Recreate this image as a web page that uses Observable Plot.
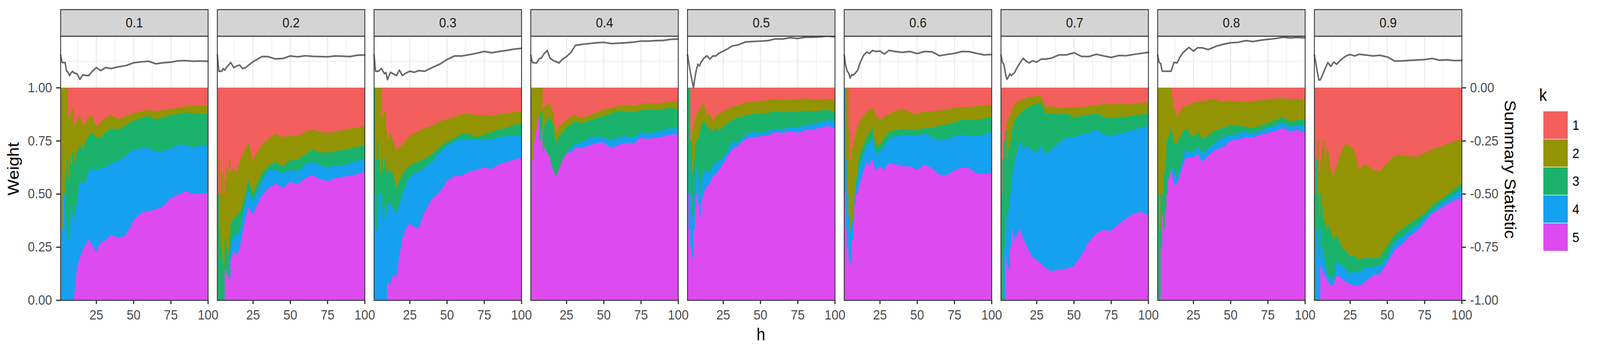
<!DOCTYPE html>
<html><head><meta charset="utf-8">
<script src="https://cdn.jsdelivr.net/npm/d3@7"></script>
<script src="https://cdn.jsdelivr.net/npm/@observablehq/plot@0.6"></script>
<style>
html,body{margin:0;padding:0;width:100%;height:100%;background:#fff;overflow:hidden;}
#wrap{width:100vw;height:100vh;}
#wrap svg{width:100%;height:100%;display:block;max-width:none;}
</style></head><body><div id="wrap"></div>
<script>
const panels = ["0.1","0.2","0.3","0.4","0.5","0.6","0.7","0.8","0.9"];
const kLevels = ["1","2","3","4","5"];
const hValues = [1,2,3,4,5,6,7,8,9,10,12,14,16,18,20,22,25,28,31,35,40,45,50,55,60,65,70,75,80,85,90,95,100];
// cumulative weight (k=5)
const top5 = [
[0,0,0,0,0,0,0,0,0,0,0.152,0.2,0.237,0.265,0.286,0.261,0.229,0.273,0.282,0.306,0.294,0.306,0.375,0.411,0.419,0.427,0.443,0.48,0.496,0.512,0.5,0.5,0.504],
[0,0,0,0,0,0.142,0.128,0.11,0.104,0.184,0.233,0.213,0.237,0.318,0.383,0.435,0.403,0.451,0.492,0.524,0.549,0.528,0.557,0.544,0.573,0.589,0.569,0.56,0.573,0.58,0.585,0.593,0.605],
[0,0,0,0,0,0,0,0,0,0.09,0.071,0.124,0.11,0.2,0.286,0.33,0.362,0.344,0.34,0.415,0.476,0.508,0.56,0.585,0.585,0.605,0.613,0.625,0.617,0.638,0.65,0.662,0.67],
[0.5,0.666,0.75,0.8,0.834,0.856,0.75,0.8,0.702,0.726,0.694,0.67,0.613,0.581,0.617,0.654,0.694,0.694,0.718,0.714,0.727,0.739,0.743,0.714,0.731,0.74,0.739,0.763,0.759,0.765,0.77,0.78,0.779],
[0.5,0.334,0.25,0.2,0.334,0.43,0.5,0.455,0.4,0.455,0.504,0.536,0.548,0.58,0.593,0.61,0.642,0.678,0.71,0.727,0.759,0.767,0.771,0.775,0.791,0.787,0.795,0.787,0.8,0.803,0.811,0.82,0.811],
[0.5,0.334,0.25,0.2,0.168,0.286,0.375,0.447,0.5,0.5,0.56,0.605,0.65,0.633,0.666,0.61,0.63,0.613,0.646,0.64,0.63,0.63,0.613,0.638,0.621,0.589,0.589,0.609,0.625,0.621,0.597,0.593,0.601],
[0,0,0,0.2,0.164,0.144,0.25,0.334,0.3,0.273,0.31,0.334,0.29,0.261,0.229,0.205,0.189,0.172,0.152,0.136,0.144,0.148,0.16,0.209,0.273,0.314,0.33,0.326,0.358,0.383,0.407,0.415,0.399],
[0,0,0.25,0.4,0.334,0.43,0.5,0.573,0.6,0.637,0.54,0.548,0.589,0.633,0.67,0.67,0.67,0.69,0.65,0.678,0.71,0.718,0.751,0.755,0.767,0.767,0.779,0.787,0.795,0.811,0.795,0.8,0.791],
[0,0,0,0,0.164,0.14,0.124,0.112,0.1,0.087,0.073,0.07,0.118,0.11,0.1,0.088,0.075,0.07,0.066,0.086,0.116,0.124,0.176,0.237,0.265,0.302,0.324,0.366,0.407,0.427,0.451,0.469,0.484]
];
// cumulative weight (k=5..4)
const top4 = [
[0.5,0.334,0.5,0.403,0.334,0.286,0.375,0.443,0.403,0.362,0.464,0.56,0.548,0.557,0.605,0.62,0.613,0.621,0.625,0.642,0.658,0.678,0.71,0.714,0.718,0.698,0.702,0.714,0.731,0.731,0.718,0.731,0.722],
[0,0,0,0,0,0.142,0.128,0.11,0.2,0.25,0.3,0.314,0.31,0.395,0.464,0.52,0.464,0.512,0.557,0.613,0.613,0.597,0.613,0.605,0.638,0.65,0.637,0.625,0.633,0.633,0.645,0.654,0.666],
[0.5,0.334,0.5,0.4,0.5,0.43,0.375,0.443,0.403,0.45,0.46,0.427,0.411,0.45,0.5,0.532,0.58,0.597,0.605,0.622,0.653,0.694,0.727,0.747,0.759,0.755,0.755,0.752,0.757,0.767,0.771,0.775,0.779],
[0.5,0.666,0.75,0.8,0.834,0.856,0.75,0.8,0.702,0.726,0.694,0.67,0.613,0.581,0.617,0.654,0.694,0.714,0.735,0.741,0.762,0.771,0.767,0.751,0.767,0.772,0.763,0.79,0.783,0.792,0.8,0.81,0.807],
[0.5,0.666,0.5,0.4,0.5,0.573,0.625,0.573,0.5,0.548,0.613,0.6,0.605,0.63,0.654,0.65,0.67,0.702,0.747,0.741,0.779,0.791,0.787,0.795,0.807,0.803,0.816,0.811,0.824,0.828,0.836,0.848,0.844],
[1,0.666,0.5,0.4,0.334,0.375,0.443,0.5,0.548,0.589,0.641,0.682,0.727,0.743,0.763,0.694,0.694,0.727,0.755,0.771,0.775,0.779,0.775,0.783,0.767,0.751,0.759,0.771,0.779,0.775,0.771,0.779,0.791],
[0,0,0.25,0.4,0.334,0.43,0.5,0.573,0.6,0.637,0.694,0.75,0.706,0.727,0.718,0.702,0.694,0.727,0.686,0.71,0.739,0.767,0.767,0.779,0.787,0.803,0.779,0.775,0.783,0.791,0.8,0.811,0.82],
[0,0,0.25,0.4,0.334,0.43,0.5,0.573,0.6,0.637,0.613,0.573,0.621,0.67,0.71,0.702,0.694,0.722,0.69,0.714,0.743,0.767,0.775,0.783,0.795,0.783,0.795,0.811,0.82,0.836,0.816,0.824,0.82],
[0,0.334,0.25,0.2,0.334,0.249,0.2,0.164,0.14,0.12,0.107,0.087,0.183,0.171,0.16,0.15,0.121,0.139,0.128,0.15,0.157,0.161,0.2,0.273,0.298,0.326,0.353,0.387,0.419,0.447,0.472,0.496,0.52]
];
// cumulative weight (k=5..3)
const top3 = [
[0.5,0.334,0.5,0.597,0.666,0.573,0.67,0.637,0.698,0.637,0.694,0.735,0.706,0.747,0.775,0.79,0.767,0.763,0.787,0.809,0.803,0.824,0.844,0.856,0.868,0.85,0.86,0.87,0.878,0.884,0.88,0.876,0.88],
[0.5,0.334,0.25,0.2,0.167,0.286,0.25,0.222,0.3,0.36,0.383,0.4,0.41,0.447,0.504,0.565,0.5,0.553,0.597,0.63,0.65,0.63,0.658,0.662,0.686,0.71,0.694,0.694,0.702,0.706,0.714,0.722,0.73],
[1,0.666,0.75,0.666,0.6,0.666,0.62,0.67,0.6,0.633,0.6,0.6,0.524,0.56,0.59,0.613,0.633,0.645,0.652,0.665,0.686,0.72,0.745,0.762,0.785,0.783,0.767,0.78,0.791,0.803,0.811,0.824,0.832],
[0.5,0.666,0.75,0.8,0.834,0.856,0.876,0.888,0.8,0.816,0.85,0.86,0.824,0.739,0.767,0.787,0.811,0.827,0.844,0.832,0.844,0.856,0.868,0.878,0.893,0.888,0.884,0.893,0.896,0.895,0.9,0.905,0.899],
[1,1,0.75,0.6,0.666,0.714,0.75,0.767,0.8,0.816,0.848,0.82,0.811,0.79,0.811,0.8,0.816,0.832,0.848,0.86,0.868,0.876,0.88,0.88,0.892,0.884,0.888,0.884,0.892,0.888,0.892,0.896,0.888],
[1,0.666,0.5,0.4,0.334,0.375,0.443,0.5,0.58,0.637,0.694,0.73,0.767,0.783,0.811,0.73,0.73,0.767,0.791,0.8,0.807,0.803,0.8,0.811,0.811,0.82,0.828,0.836,0.848,0.852,0.848,0.856,0.86],
[0.5,0.666,0.75,0.8,0.666,0.714,0.75,0.8,0.816,0.84,0.864,0.88,0.892,0.903,0.909,0.917,0.925,0.929,0.876,0.88,0.874,0.88,0.86,0.868,0.872,0.88,0.864,0.856,0.864,0.862,0.868,0.874,0.88],
[0.5,0.334,0.5,0.5,0.6,0.666,0.75,0.77,0.8,0.82,0.74,0.735,0.767,0.787,0.811,0.791,0.767,0.791,0.759,0.775,0.8,0.811,0.824,0.82,0.816,0.811,0.82,0.832,0.848,0.86,0.84,0.848,0.848],
[0.5,0.666,0.5,0.4,0.5,0.443,0.375,0.362,0.334,0.362,0.322,0.282,0.306,0.273,0.249,0.231,0.209,0.21,0.189,0.2,0.197,0.202,0.256,0.306,0.337,0.361,0.385,0.409,0.447,0.47,0.494,0.522,0.549]
];
// cumulative weight (k=5..2); k=1 fills the rest up to 1
const top2 = [
[1,1,1,1,1,0.858,0.876,0.888,0.9,0.82,0.845,0.872,0.82,0.84,0.86,0.873,0.815,0.838,0.856,0.872,0.852,0.866,0.88,0.888,0.895,0.888,0.895,0.9,0.905,0.912,0.915,0.912,0.918],
[0.5,0.666,0.5,0.6,0.5,0.573,0.625,0.6,0.666,0.613,0.62,0.6,0.65,0.686,0.714,0.739,0.654,0.698,0.73,0.759,0.783,0.767,0.775,0.771,0.791,0.803,0.791,0.787,0.791,0.8,0.807,0.811,0.82],
[1,1,1,1,1,0.858,0.876,0.888,0.8,0.75,0.79,0.75,0.702,0.72,0.73,0.747,0.775,0.783,0.795,0.81,0.82,0.84,0.852,0.862,0.874,0.879,0.868,0.872,0.866,0.875,0.88,0.885,0.888],
[1,1,1,1,1,1,1,1,0.9,0.912,0.915,0.933,0.88,0.79,0.816,0.832,0.848,0.864,0.868,0.86,0.868,0.884,0.896,0.905,0.913,0.92,0.915,0.922,0.929,0.925,0.93,0.935,0.93],
[1,1,0.75,0.8,0.834,0.856,0.876,0.888,0.9,0.912,0.929,0.87,0.884,0.844,0.864,0.876,0.888,0.9,0.909,0.917,0.929,0.933,0.937,0.941,0.947,0.941,0.943,0.945,0.949,0.943,0.945,0.947,0.941],
[1,1,1,0.8,0.666,0.714,0.75,0.767,0.8,0.816,0.848,0.868,0.884,0.896,0.905,0.872,0.848,0.864,0.876,0.888,0.9,0.884,0.876,0.888,0.888,0.892,0.896,0.905,0.909,0.909,0.913,0.917,0.92],
[0.5,0.666,0.75,0.8,0.834,0.856,0.876,0.896,0.909,0.92,0.933,0.937,0.947,0.951,0.955,0.957,0.96,0.963,0.909,0.913,0.903,0.909,0.905,0.909,0.913,0.917,0.925,0.92,0.925,0.92,0.925,0.929,0.93],
[1,1,1,1,1,1,1,1,1,1,0.912,0.868,0.888,0.905,0.912,0.92,0.929,0.933,0.937,0.941,0.947,0.933,0.941,0.933,0.933,0.937,0.941,0.945,0.949,0.951,0.945,0.947,0.941],
[0.5,0.666,0.751,0.605,0.666,0.714,0.751,0.654,0.702,0.727,0.613,0.581,0.638,0.678,0.712,0.735,0.727,0.702,0.613,0.642,0.617,0.605,0.647,0.682,0.682,0.676,0.676,0.692,0.71,0.72,0.735,0.747,0.759]
];
// summary statistic (right axis)
const statValues = [
[0.155,0.119,0.119,0.119,0.078,0.074,0.058,0.07,0.078,0.07,0.066,0.04,0.062,0.058,0.058,0.076,0.095,0.081,0.095,0.091,0.099,0.105,0.118,0.122,0.125,0.113,0.118,0.121,0.127,0.128,0.125,0.126,0.125],
[0.155,0.078,0.078,0.078,0.091,0.083,0.095,0.103,0.111,0.119,0.095,0.103,0.107,0.09,0.095,0.107,0.123,0.135,0.147,0.147,0.136,0.138,0.15,0.146,0.151,0.148,0.147,0.146,0.15,0.149,0.147,0.153,0.155],
[0.155,0.078,0.078,0.078,0.085,0.091,0.078,0.066,0.072,0.038,0.073,0.065,0.058,0.083,0.058,0.068,0.078,0.073,0.081,0.078,0.095,0.111,0.133,0.15,0.15,0.156,0.163,0.171,0.165,0.171,0.176,0.182,0.186],
[0.155,0.119,0.118,0.117,0.117,0.129,0.139,0.139,0.15,0.161,0.176,0.139,0.129,0.123,0.117,0.133,0.147,0.167,0.2,0.204,0.208,0.212,0.214,0.208,0.21,0.212,0.215,0.22,0.22,0.222,0.223,0.228,0.23],
[0.155,0.112,0.07,0.035,0.0,0.049,0.087,0.111,0.103,0.119,0.139,0.151,0.135,0.15,0.15,0.162,0.173,0.184,0.197,0.202,0.216,0.218,0.22,0.222,0.23,0.23,0.236,0.232,0.238,0.238,0.24,0.243,0.24],
[0.155,0.103,0.078,0.07,0.046,0.062,0.06,0.066,0.074,0.083,0.123,0.153,0.168,0.162,0.176,0.171,0.173,0.159,0.176,0.171,0.167,0.171,0.161,0.171,0.169,0.151,0.157,0.162,0.171,0.17,0.162,0.155,0.157],
[0.155,0.12,0.11,0.068,0.04,0.05,0.065,0.058,0.065,0.07,0.097,0.12,0.139,0.125,0.117,0.127,0.121,0.135,0.135,0.14,0.155,0.155,0.165,0.148,0.147,0.158,0.15,0.143,0.152,0.151,0.157,0.162,0.167],
[0.155,0.119,0.115,0.078,0.078,0.078,0.078,0.078,0.078,0.078,0.12,0.117,0.145,0.165,0.178,0.19,0.173,0.189,0.188,0.18,0.195,0.205,0.212,0.214,0.222,0.218,0.224,0.228,0.232,0.238,0.235,0.237,0.235],
[0.155,0.116,0.075,0.037,0.038,0.054,0.07,0.087,0.103,0.119,0.101,0.121,0.111,0.127,0.138,0.149,0.157,0.15,0.158,0.155,0.15,0.153,0.145,0.126,0.127,0.129,0.131,0.133,0.138,0.13,0.132,0.128,0.129]
];
const xTicks = [25, 50, 75, 100];
const yTicks = [0, 0.25, 0.5, 0.75, 1];
const kColors = ["#F25F5C", "#939403", "#1BB36B", "#16A0F0", "#DD4AF0"];

const FONT = "'Liberation Sans', Arial, Helvetica, sans-serif";

// Tidy rows
const bands = [];
const lineRows = [];
panels.forEach((p, i) => {
  hValues.forEach((h, j) => {
    const c = [0, top5[i][j], top4[i][j], top3[i][j], top2[i][j], 1];
    for (let m = 0; m < 5; m++) {
      bands.push({panel: p, h, k: kLevels[4 - m], lo: c[m], hi: c[m + 1]});
    }
    lineRows.push({panel: p, h, stat: statValues[i][j]});
  });
});
const early = bands.filter(d => d.h <= 10);
const late = bands.filter(d => d.h >= 10);

const plot = Plot.plot({
  width: 4500,
  height: 900,
  marginLeft: 170,
  marginRight: 389,
  marginTop: 92,
  marginBottom: 132.5,
  style: {fontFamily: FONT, background: "#fff"},
  fx: {domain: panels, paddingInner: 0.059, paddingOuter: 0, round: false, axis: null, label: null},
  x: {domain: [1, 100], label: null},
  y: {domain: [0, 1.243], label: null},
  color: {domain: kLevels, range: kColors},
  marks: [
    Plot.gridX({ticks: [12.5, 37.5, 62.5, 87.5], stroke: "#EBEBEB", strokeOpacity: 1, strokeWidth: 1.7}),
    Plot.gridX({ticks: [25, 50, 75], stroke: "#EBEBEB", strokeOpacity: 1, strokeWidth: 3.2}),
    Plot.gridY({ticks: [1.125], stroke: "#EBEBEB", strokeOpacity: 1, strokeWidth: 1.7}),
    Plot.areaY(early, {fx: "panel", x: "h", y1: "lo", y2: "hi", z: "k", fill: "k", curve: "step-after", shapeRendering: "crispEdges"}),
    Plot.areaY(late, {fx: "panel", x: "h", y1: "lo", y2: "hi", z: "k", fill: "k", curve: "linear", shapeRendering: "crispEdges"}),
    Plot.line(lineRows, {fx: "panel", x: "h", y: d => d.stat + 1, stroke: "#696969", strokeWidth: 4.2}),
    Plot.frame({stroke: "#333333", strokeWidth: 2.4}),
    Plot.frame({fill: "#D4D4D4", stroke: "#333333", strokeWidth: 2.4, insetTop: -68, insetBottom: 675.5}),
    Plot.text(panels, {fx: d => d, text: d => d, frameAnchor: "top", lineAnchor: "middle", dy: -34, fontSize: 35, fill: "#1A1A1A"}),
    Plot.axisX({ticks: xTicks, tickSize: 10, tickPadding: 14, fontSize: 35, color: "#4D4D4D", stroke: "#333333", strokeWidth: 3.3, label: null}),
    Plot.axisY({anchor: "left", facetAnchor: "left", ticks: yTicks, tickFormat: d => d.toFixed(2), tickSize: 12, tickPadding: 12, fontSize: 35, color: "#4D4D4D", stroke: "#333333", strokeWidth: 3.3, label: null}),
    Plot.axisY({anchor: "right", facetAnchor: "right", ticks: yTicks, tickFormat: d => (d - 1).toFixed(2), tickSize: 11, tickPadding: 12, fontSize: 35, color: "#4D4D4D", stroke: "#333333", strokeWidth: 3.3, label: null})
  ]
});
plot.setAttribute("preserveAspectRatio", "none");
document.getElementById("wrap").appendChild(plot);

// Titles and legend (added to the same SVG, so they scale with it)
const svg = d3.select(plot);
const g = svg.append("g").attr("font-family", FONT);
g.append("text").attr("transform", "translate(53,432) rotate(-90)").attr("text-anchor", "middle")
  .attr("font-size", 44).attr("fill", "#000").text("Weight");
g.append("text").attr("x", 2140).attr("y", 870).attr("text-anchor", "middle")
  .attr("font-size", 44).attr("fill", "#000").text("h");
g.append("text").attr("transform", "translate(4232,433) rotate(90)").attr("text-anchor", "middle")
  .attr("font-size", 44).attr("fill", "#000").text("Summary Statistic");
g.append("text").attr("x", 4340).attr("y", 258).attr("font-size", 44).attr("fill", "#000").text("k");
const color = plot.scale("color");
kLevels.forEach((k, i) => {
  const y0 = 284 + i * 71.6;
  g.append("rect").attr("x", 4340).attr("y", y0).attr("width", 70).attr("height", 71.6)
    .attr("fill", color.apply(k)).attr("stroke", "#fff").attr("stroke-width", 1.2);
  g.append("text").attr("x", 4432).attr("y", y0 + 35.8 + 12.5).attr("font-size", 35).attr("fill", "#000").text(k);
});
</script>
</body></html>
